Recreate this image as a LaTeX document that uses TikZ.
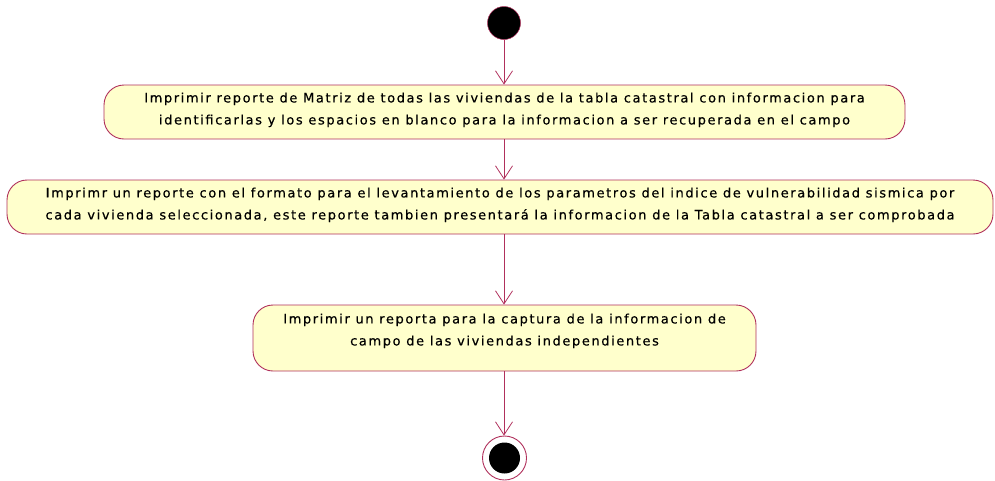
\documentclass[tikz,border=0pt]{standalone}
\usepackage{fontspec}
\setmainfont{DejaVu Sans}[LetterSpace=12.3, FakeBold=0.4]
\usetikzlibrary{arrows.meta}
\definecolor{umlborder}{HTML}{B0305C}
\definecolor{umlfill}{HTML}{FFFFCC}
\tikzset{
  actbox/.style={draw=umlborder, fill=umlfill, line width=0.9pt,
    rounded corners=20pt, align=center, inner sep=0pt,
    font=\fontsize{13}{22}\selectfont},
  flow/.style={draw=umlborder, line width=0.9pt,
    -{Straight Barb[length=13pt,width=17pt,line width=0.8pt]}},
  startnode/.style={circle, fill=black, draw=umlborder, line width=0.5pt,
    minimum size=33pt, inner sep=0pt},
}
\begin{document}
\begin{tikzpicture}[x=1pt,y=-1pt]
\useasboundingbox (0,0) rectangle (995,480);
\node[startnode] (s) at (504,23) {};
\node[actbox, minimum width=801pt, minimum height=54pt, text depth=7pt] (a1) at (504.5,112)
  {Imprimir reporte de Matriz de todas las viviendas de la tabla catastral con informacion para\\
   identificarlas y los espacios en blanco para la informacion a ser recuperada en el campo};
\node[actbox, minimum width=986pt, minimum height=54pt, text depth=7pt] (a2) at (500,207)
  {Imprimr un reporte con el formato para el levantamiento de los parametros del indice de vulnerabilidad sismica por\\
   cada vivienda seleccionada, este reporte tambien presentará la informacion de la Tabla catastral a ser comprobada};
\node[actbox, minimum width=503pt, minimum height=66pt, text depth=17pt] (a3) at (504.5,338)
  {Imprimir un reporta para la captura de la informacion de\\
   campo de las viviendas independientes};
\node[circle, draw=umlborder, fill=white, line width=0.9pt, minimum size=44pt, inner sep=0pt] (e) at (504.5,458) {};
\node[circle, fill=black, minimum size=31pt, inner sep=0pt] (ei) at (e.center) {};
\draw[flow] (s) -- (a1.north -| s);
\draw[flow] (a1.south -| s) -- (a2.north -| s);
\draw[flow] (a2.south -| s) -- (a3.north -| s);
\draw[flow] (a3.south -| s) -- (e.north -| s);
\end{tikzpicture}
\end{document}
